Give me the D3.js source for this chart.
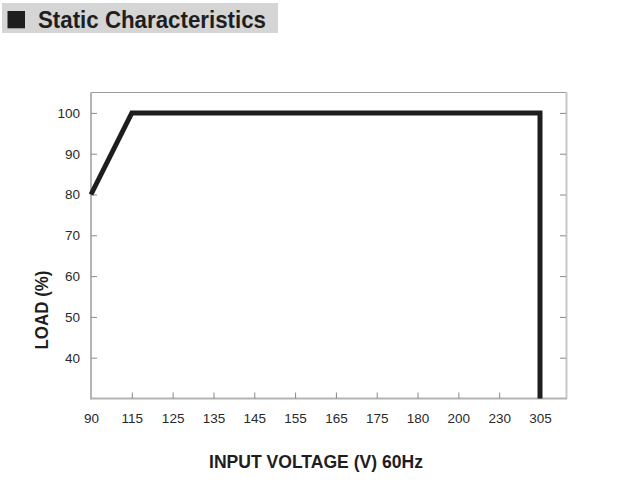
<!DOCTYPE html>
<html><head><meta charset="utf-8">
<script src="https://cdn.jsdelivr.net/npm/d3@7"></script>
<style>
html,body{margin:0;padding:0;background:#fff;}
svg{display:block;}
</style></head>
<body>
<svg id="chart" width="621" height="503"></svg>
<script>
// ---- data ----
const voltageCategories = ["90","115","125","135","145","155","165","175","180","200","230","305"];
const loadTicks = [40, 50, 60, 70, 80, 90, 100];
const curveVoltage = ["90", "115", "305", "305"];
const curveLoad = [80, 100, 100, 30];
const titleText = "Static Characteristics";
const xLabel = "INPUT VOLTAGE (V) 60Hz";
const yLabel = "LOAD (%)";

// ---- layout ----
const L = 91, R = 567, T = 92.5, B = 398.5;
const svg = d3.select("#chart");
const font = "'Liberation Sans', Arial, sans-serif";

// title bar
svg.append("rect").attr("x", 2).attr("y", 3).attr("width", 276).attr("height", 30).attr("fill", "#d5d5d5");
svg.append("rect").attr("x", 7.5).attr("y", 11).attr("width", 17.5).attr("height", 17.3).attr("fill", "#1e1e1e");
svg.append("text").attr("x", 38).attr("y", 27.5)
  .attr("font-family", font).attr("font-weight", "bold").attr("font-size", 23)
  .attr("fill", "#1e1e1e").attr("textLength", 228).attr("lengthAdjust", "spacingAndGlyphs")
  .text(titleText);

// scales
const x = d3.scalePoint().domain(voltageCategories).range([L, 540]).padding(0);
const y = d3.scaleLinear().domain([30, 105]).range([B, T]);

// frame
svg.append("line").attr("x1", L).attr("x2", R).attr("y1", T).attr("y2", T).attr("stroke", "#9a9a9a").attr("stroke-width", 1);
svg.append("line").attr("x1", R - 0.5).attr("x2", R - 0.5).attr("y1", T - 0.5).attr("y2", B).attr("stroke", "#c8c8c8").attr("stroke-width", 2);

// left axis
const gy = svg.append("g").attr("transform", `translate(${L},0)`)
  .call(d3.axisLeft(y).tickValues(loadTicks).tickSizeInner(-6).tickSizeOuter(0).tickPadding(11));
// right ticks
const gyr = svg.append("g").attr("transform", `translate(${R - 1},0)`)
  .call(d3.axisRight(y).tickValues(loadTicks).tickSizeInner(-6).tickSizeOuter(0).tickFormat(""));
// bottom axis
const gx = svg.append("g").attr("transform", `translate(0,${B})`)
  .call(d3.axisBottom(x).tickSizeInner(-6).tickSizeOuter(0).tickPadding(15));

[gy, gyr, gx].forEach(g => {
  g.select(".domain").attr("stroke", "#b4b4b4").attr("stroke-width", 2);
  g.selectAll(".tick line").attr("stroke", "#8a8a8a").attr("stroke-width", 1);
  g.selectAll(".tick text").attr("font-family", font).attr("font-size", 13.5).attr("fill", "#2a2a2a");
});
gyr.select(".domain").remove();
gx.selectAll(".tick").filter(d => d === "90").select("line").remove();
gx.select(".domain").attr("d", `M${L},0H${R}`);
gy.select(".domain").attr("d", `M0,${T}V${B + 1}`);

// curve
const lineGen = d3.line().x((d, i) => x(curveVoltage[i])).y((d, i) => y(curveLoad[i]));
svg.append("path").datum(curveLoad).attr("d", lineGen)
  .attr("fill", "none").attr("stroke", "#1e1e1e").attr("stroke-width", 5)
  .attr("stroke-linejoin", "miter");

// axis labels
svg.append("text").attr("x", 209).attr("y", 467.5)
  .attr("font-family", font).attr("font-weight", "bold").attr("font-size", 19)
  .attr("fill", "#1e1e1e").attr("textLength", 214).attr("lengthAdjust", "spacingAndGlyphs")
  .text(xLabel);
svg.append("text").attr("transform", "translate(48,349.5) rotate(-90)")
  .attr("font-family", font).attr("font-weight", "bold").attr("font-size", 18.5)
  .attr("fill", "#1e1e1e").attr("textLength", 79).attr("lengthAdjust", "spacingAndGlyphs")
  .text(yLabel);
</script>
</body></html>
